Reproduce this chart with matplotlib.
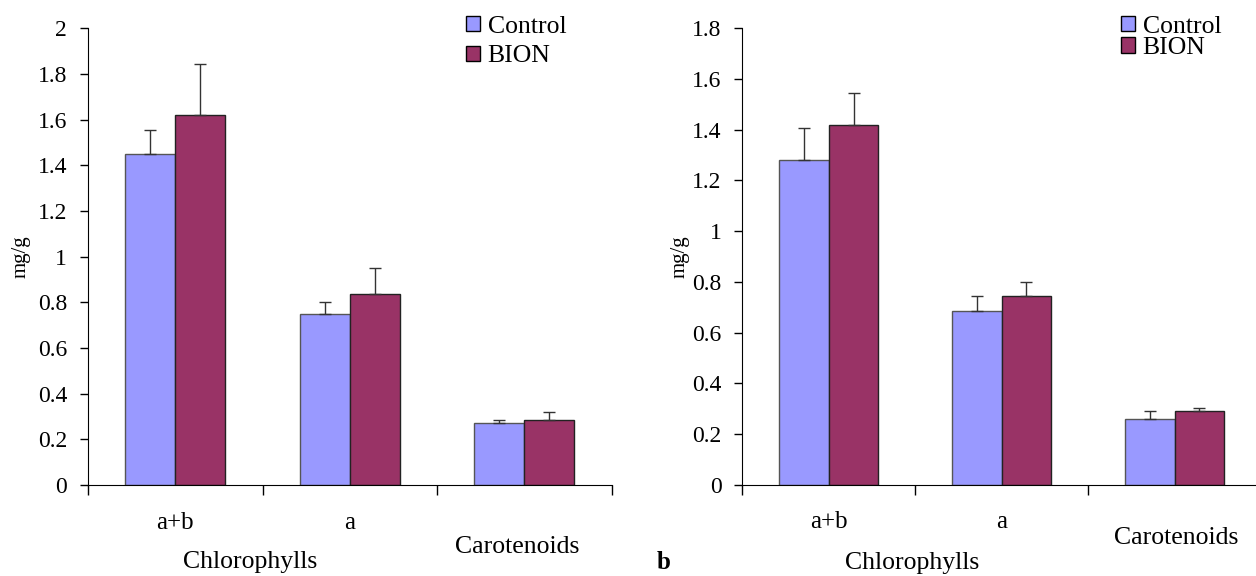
"""
chlorophyll and carotenoid content, control vs BION, two panels
"""

import matplotlib.pyplot as plt
import matplotlib.transforms as mt
from matplotlib.patches import Patch

plt.rcParams["font.family"] = ["Liberation Serif", "DejaVu Serif"]

groups = ["a+b", "a", "Carotenoids"]
series = ["Control", "BION"]
colors = ["#9999FF", "#993366"]

# panel a
a_control = [1.45, 0.75, 0.27]
a_bion = [1.62, 0.835, 0.285]
a_control_err = [0.105, 0.05, 0.015]
a_bion_err = [0.225, 0.115, 0.035]

# panel b
b_control = [1.28, 0.685, 0.26]
b_bion = [1.42, 0.745, 0.29]
b_control_err = [0.125, 0.06, 0.03]
b_bion_err = [0.125, 0.055, 0.015]

a_yticks = [0, 0.2, 0.4, 0.6, 0.8, 1, 1.2, 1.4, 1.6, 1.8, 2]
b_yticks = [0, 0.2, 0.4, 0.6, 0.8, 1, 1.2, 1.4, 1.6, 1.8]

fig = plt.figure(figsize=(12.56, 5.76), dpi=100)
ax1 = fig.add_axes([0.070, 0.158, 0.417, 0.793])
ax2 = fig.add_axes([0.591, 0.158, 0.413, 0.793])

W = 0.287


def draw(ax, ctrl, bion, ctrl_err, bion_err, yticks, pos, spacing, lpad, legx):
    x = list(range(len(groups)))
    xc = [i - W / 2 for i in x]
    xb = [i + W / 2 for i in x]
    ax.bar(xc, ctrl, W, color=colors[0], edgecolor="#555555", linewidth=1)
    ax.bar(xb, bion, W, color=colors[1], edgecolor="#222222", linewidth=1)
    ax.errorbar(xc, ctrl, yerr=[[0] * 3, ctrl_err], fmt="none",
                ecolor="#333333", elinewidth=1, capsize=4.3, capthick=1)
    ax.errorbar(xb, bion, yerr=[[0] * 3, bion_err], fmt="none",
                ecolor="#333333", elinewidth=1, capsize=4.3, capthick=1)

    ax.set_xlim(-0.5, 2.5)
    ax.set_ylim(0, yticks[-1])
    ax.set_yticks(yticks)
    ax.set_yticklabels([f"{t:g}" for t in yticks], fontsize=17)
    ax.set_xticks([-0.5, 0.5, 1.5, 2.5])
    ax.set_xticklabels([])
    ax.tick_params(axis="x", length=7, width=1)
    ax.tick_params(axis="y", length=6, width=1, pad=9)
    for s in ["top", "right"]:
        ax.spines[s].set_visible(False)
    ax.set_ylabel("mg/g", fontsize=15, labelpad=lpad)

    tr = mt.blended_transform_factory(ax.transData, ax.transAxes)
    ax.text(0, pos[0], groups[0], transform=tr, ha="center", va="center", fontsize=18)
    ax.text(1, pos[0], groups[1], transform=tr, ha="center", va="center", fontsize=18)
    ax.text(pos[3], pos[1], groups[2], transform=tr, ha="center", va="center",
            fontsize=18.5)
    ax.text(pos[4], pos[2], "Chlorophylls", transform=tr, ha="center",
            va="center", fontsize=18.5)

    handles = [Patch(facecolor=colors[i], edgecolor="black", linewidth=1) for i in range(2)]
    ax.legend(handles, series, loc="upper left", bbox_to_anchor=(legx, 1.05),
              frameon=False, fontsize=18.5, handlelength=0.55, handleheight=0.55,
              handletextpad=0.3, labelspacing=spacing, borderaxespad=0)


draw(ax1, a_control, a_bion, a_control_err, a_bion_err, a_yticks,
     [-0.083, -0.136, -0.168, 1.96, 0.43], 0.3, 5, 0.702)
draw(ax2, b_control, b_bion, b_control_err, b_bion_err, b_yticks,
     [-0.081, -0.116, -0.171, 2.01, 0.48], -0.02, 2, 0.71)

fig.text(0.528, 0.024, "b", fontsize=18, fontweight="bold", ha="center", va="center")

plt.savefig("out.png", dpi=100)
